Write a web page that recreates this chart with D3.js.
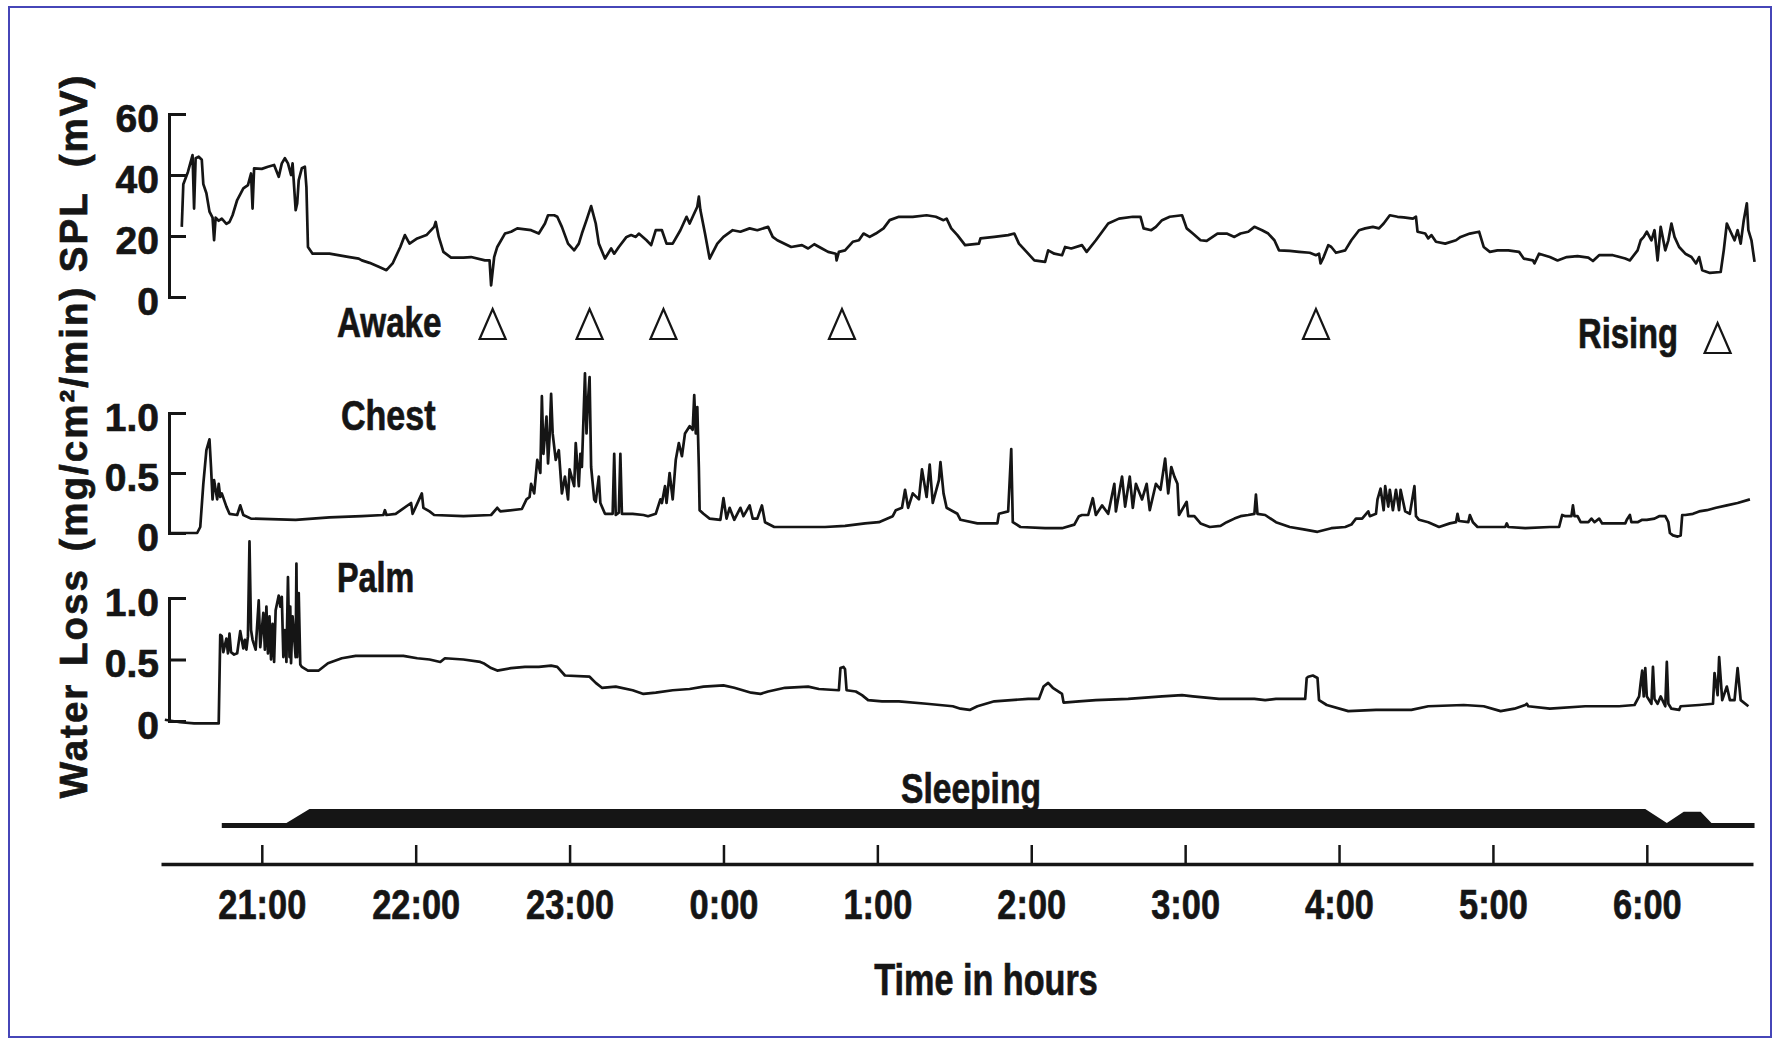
<!DOCTYPE html>
<html>
<head>
<meta charset="utf-8">
<script src="https://cdn.jsdelivr.net/npm/d3@7"></script>
<style>
body { margin: 0; background: #fff; }
svg text { font-family: "Liberation Sans", Arial, Helvetica, sans-serif; font-weight: bold; fill: #151515; stroke: #151515; stroke-width: 0.7px; }
</style>
</head>
<body>
<div id="display"></div>
<script>
// time is in decimal hours counted from the evening (24 = midnight, 30 = 6:00)
var splData = [
  [20.48,23],[20.49,37],[20.52,41],[20.55,46.5],[20.56,29],[20.57,45.5],[20.59,46],[20.61,45],[20.62,37],[20.64,34],
  [20.66,28],[20.68,26],[20.69,18.6],[20.70,26],[20.72,25],[20.74,25.7],[20.77,24],[20.79,24.6],[20.81,26.8],[20.84,31.8],
  [20.88,35.6],[20.91,36.7],[20.93,40.5],[20.94,29],[20.95,42.2],[21.00,42],[21.04,42.7],[21.08,43.3],[21.11,39.4],[21.13,43.8],
  [21.15,45.5],[21.17,43.8],[21.19,40],[21.20,43.8],[21.22,28.5],[21.23,30.7],[21.24,38.3],[21.26,42.2],[21.28,42.7],[21.29,36],
  [21.30,16.4],[21.33,14.2],[21.44,14.2],[21.57,13.1],[21.63,12.6],[21.65,12],[21.70,11.2],[21.76,9.9],[21.81,8.8],[21.85,11],
  [21.90,16.4],[21.93,20.3],[21.96,17.5],[22.01,19.2],[22.07,20.3],[22.12,23],[22.13,24.6],[22.15,19.7],[22.18,14.8],[22.23,12.9],
  [22.31,12.9],[22.36,13.1],[22.45,12],[22.48,12],[22.49,3.8],[22.51,13.1],[22.53,16.4],[22.58,20.8],[22.62,21.4],[22.66,22.5],
  [22.75,21.9],[22.80,20.8],[22.84,24.1],[22.86,26.8],[22.90,26.8],[22.92,26.3],[22.95,23],[22.99,17.5],[23.03,15.3],[23.06,17.5],
  [23.08,20.8],[23.11,25.2],[23.14,29.8],[23.17,24.1],[23.19,17.5],[23.23,12.6],[23.27,15.9],[23.29,14.2],[23.32,16.4],[23.37,19.7],
  [23.40,20.3],[23.43,19.7],[23.45,20.8],[23.50,18.6],[23.53,17],[23.56,21.9],[23.60,21.9],[23.63,17.5],[23.67,17.5],[23.72,21.9],
  [23.76,26.3],[23.78,24.1],[23.80,26.3],[23.83,29.6],[23.84,32.9],[23.85,28.5],[23.88,20.8],[23.91,12.6],[23.96,17.5],[24.00,19.7],
  [24.06,21.9],[24.11,21.4],[24.17,22.5],[24.22,21.9],[24.29,23],[24.32,19.7],[24.35,18.6],[24.44,16.4],[24.51,17],[24.55,15.9],
  [24.59,17.3],[24.64,15.9],[24.68,14.8],[24.73,14.2],[24.735,12],[24.75,14.8],[24.79,15.3],[24.84,18.1],[24.88,18.6],[24.91,20.8],
  [24.95,19.7],[24.99,20.8],[25.04,22.5],[25.08,25.2],[25.14,26.3],[25.23,26.3],[25.32,26.8],[25.38,26.3],[25.43,25.2],[25.45,25.7],
  [25.48,22.5],[25.52,20.3],[25.57,17],[25.66,17.5],[25.67,19.2],[25.76,19.7],[25.85,20.3],[25.89,20.8],[25.92,17.5],[25.98,14.2],
  [26.02,12],[26.09,11.5],[26.11,15.3],[26.15,14.2],[26.20,13.7],[26.22,16.4],[26.26,15.9],[26.33,17],[26.36,14.8],[26.42,18.6],
  [26.50,24.1],[26.57,25.7],[26.66,26.3],[26.71,26.3],[26.73,22.5],[26.78,21.9],[26.81,23],[26.85,25.2],[26.90,26.3],[26.98,26.8],
  [27.01,22.5],[27.05,20.8],[27.10,18.6],[27.14,18.4],[27.21,20.8],[27.27,20.8],[27.32,19.7],[27.36,20.8],[27.41,21.4],[27.45,23],
  [27.50,21.9],[27.54,20.8],[27.58,18.6],[27.61,15.3],[27.68,15.1],[27.74,14.8],[27.81,14.5],[27.85,13.7],[27.87,14.2],[27.88,11],
  [27.90,13.1],[27.93,17],[27.95,16.4],[27.98,14.5],[28.04,15.3],[28.08,18.6],[28.13,21.9],[28.17,22.5],[28.22,23],[28.26,22.5],
  [28.29,24.1],[28.33,26.8],[28.38,26.3],[28.42,26.1],[28.48,25.7],[28.50,26.3],[28.51,21.4],[28.56,20.8],[28.58,19.2],[28.60,20.3],
  [28.63,18.1],[28.69,17.5],[28.76,18.6],[28.79,19.7],[28.85,20.8],[28.91,21.4],[28.94,16.4],[28.98,14.8],[29.03,15.3],[29.10,15.3],
  [29.17,14.8],[29.20,12.6],[29.26,12],[29.27,11],[29.30,14.2],[29.37,13.1],[29.42,12],[29.48,13.1],[29.55,13.4],[29.62,12.9],
  [29.65,11.8],[29.69,13.7],[29.78,13.7],[29.86,12.6],[29.89,12],[29.94,15.3],[29.96,18.6],[29.98,19.7],[30.00,21.4],[30.03,18.6],
  [30.05,21.9],[30.07,12],[30.09,23],[30.12,15.3],[30.14,18.6],[30.16,24.1],[30.18,19.7],[30.21,16.4],[30.25,14.2],[30.29,13.1],
  [30.32,11],[30.34,13.1],[30.36,8.8],[30.41,7.9],[30.48,8.2],[30.50,15.3],[30.52,24.1],[30.54,21.9],[30.57,18.6],[30.59,21.9],
  [30.61,17.5],[30.63,25.2],[30.65,30.7],[30.66,21.9],[30.68,18.6],[30.70,11.5]
];

var chestData = [
  [20.40,0],[20.58,0],[20.60,0.05],[20.62,0.41],[20.64,0.69],[20.66,0.78],[20.67,0.55],[20.68,0.28],[20.69,0.44],[20.71,0.28],
  [20.72,0.41],[20.73,0.30],[20.74,0.33],[20.77,0.22],[20.79,0.16],[20.84,0.15],[20.86,0.23],[20.88,0.15],[20.93,0.12],[21.22,0.11],
  [21.44,0.13],[21.65,0.14],[21.79,0.15],[21.80,0.19],[21.81,0.15],[21.87,0.16],[21.97,0.25],[21.98,0.16],[22.04,0.33],[22.05,0.21],
  [22.09,0.18],[22.12,0.15],[22.31,0.14],[22.49,0.15],[22.53,0.21],[22.55,0.18],[22.69,0.20],[22.72,0.28],[22.74,0.30],[22.75,0.41],
  [22.77,0.33],[22.79,0.61],[22.81,0.50],[22.82,1.14],[22.83,0.66],[22.85,0.97],[22.86,0.58],[22.87,0.80],[22.88,1.16],[22.89,0.83],
  [22.91,0.61],[22.93,0.69],[22.95,0.33],[22.97,0.47],[22.99,0.28],[23.00,0.53],[23.03,0.39],[23.04,0.75],[23.06,0.39],[23.07,0.66],
  [23.08,0.55],[23.10,1.33],[23.11,0.83],[23.12,1.11],[23.13,1.30],[23.14,0.55],[23.16,0.28],[23.17,0.26],[23.19,0.47],[23.20,0.25],
  [23.23,0.16],[23.28,0.16],[23.29,0.66],[23.30,0.15],[23.32,0.17],[23.33,0.66],[23.34,0.16],[23.41,0.16],[23.48,0.15],[23.51,0.14],
  [23.56,0.16],[23.59,0.28],[23.60,0.25],[23.62,0.39],[23.63,0.25],[23.65,0.50],[23.67,0.28],[23.69,0.61],[23.71,0.75],[23.73,0.64],
  [23.75,0.83],[23.78,0.89],[23.80,0.86],[23.81,1.15],[23.82,0.83],[23.83,1.05],[23.84,0.55],[23.845,0.19],[23.87,0.16],[23.91,0.12],
  [23.98,0.11],[24.00,0.29],[24.02,0.12],[24.04,0.21],[24.07,0.11],[24.11,0.21],[24.13,0.14],[24.17,0.23],[24.19,0.12],[24.22,0.12],
  [24.25,0.23],[24.27,0.09],[24.33,0.05],[24.44,0.05],[24.66,0.05],[24.79,0.06],[24.92,0.08],[25.01,0.09],[25.10,0.14],[25.12,0.19],
  [25.16,0.21],[25.18,0.36],[25.20,0.21],[25.23,0.33],[25.27,0.28],[25.29,0.53],[25.32,0.30],[25.34,0.57],[25.36,0.25],[25.40,0.44],
  [25.41,0.59],[25.43,0.33],[25.45,0.21],[25.52,0.16],[25.54,0.11],[25.65,0.08],[25.78,0.08],[25.79,0.16],[25.85,0.18],[25.87,0.70],
  [25.88,0.09],[25.93,0.05],[26.09,0.04],[26.20,0.04],[26.28,0.07],[26.31,0.14],[26.33,0.15],[26.37,0.15],[26.40,0.29],[26.42,0.15],
  [26.46,0.23],[26.50,0.16],[26.54,0.41],[26.55,0.18],[26.59,0.47],[26.61,0.22],[26.64,0.47],[26.66,0.21],[26.68,0.41],[26.72,0.28],
  [26.75,0.41],[26.77,0.19],[26.81,0.41],[26.84,0.36],[26.87,0.62],[26.89,0.33],[26.91,0.55],[26.93,0.47],[26.95,0.41],[26.96,0.15],
  [27.01,0.26],[27.02,0.14],[27.06,0.14],[27.10,0.08],[27.16,0.05],[27.23,0.06],[27.27,0.09],[27.32,0.12],[27.36,0.14],[27.41,0.15],
  [27.45,0.16],[27.46,0.32],[27.47,0.16],[27.52,0.15],[27.59,0.09],[27.68,0.05],[27.77,0.03],[27.86,0.01],[27.95,0.04],[28.04,0.05],
  [28.08,0.07],[28.11,0.12],[28.15,0.12],[28.19,0.18],[28.20,0.14],[28.24,0.16],[28.25,0.28],[28.27,0.37],[28.29,0.19],[28.30,0.39],
  [28.32,0.22],[28.33,0.36],[28.35,0.19],[28.37,0.36],[28.39,0.19],[28.40,0.36],[28.43,0.18],[28.46,0.16],[28.49,0.39],[28.50,0.14],
  [28.52,0.11],[28.58,0.09],[28.65,0.05],[28.72,0.08],[28.76,0.09],[28.77,0.16],[28.78,0.10],[28.84,0.09],[28.85,0.15],[28.87,0.09],
  [28.90,0.05],[28.99,0.05],[29.08,0.05],[29.09,0.08],[29.10,0.05],[29.21,0.04],[29.37,0.05],[29.43,0.05],[29.45,0.15],[29.47,0.14],
  [29.51,0.14],[29.52,0.23],[29.53,0.14],[29.55,0.14],[29.57,0.09],[29.62,0.09],[29.64,0.12],[29.66,0.09],[29.69,0.12],[29.71,0.08],
  [29.78,0.08],[29.86,0.08],[29.87,0.11],[29.89,0.15],[29.90,0.09],[29.94,0.09],[29.97,0.11],[30.00,0.11],[30.05,0.12],[30.08,0.14],
  [30.12,0.14],[30.14,0.09],[30.15,0],[30.17,-0.02],[30.20,-0.03],[30.22,-0.02],[30.23,0.15],[30.25,0.15],[30.30,0.16],[30.34,0.18],
  [30.39,0.19],[30.45,0.21],[30.52,0.23],[30.59,0.25],[30.67,0.28]
];

var palmData = [
  [20.37,0.01],[20.47,-0.01],[20.56,-0.02],[20.72,-0.02],[20.73,0.70],[20.74,0.69],[20.75,0.56],[20.77,0.67],[20.78,0.55],[20.79,0.71],
  [20.80,0.56],[20.82,0.54],[20.84,0.55],[20.86,0.73],[20.88,0.59],[20.89,0.66],[20.90,0.58],[20.91,0.69],[20.92,1.46],[20.93,0.74],
  [20.94,0.66],[20.96,0.58],[20.98,0.98],[20.99,0.60],[21.01,0.88],[21.02,0.58],[21.03,0.93],[21.04,0.55],[21.05,0.85],[21.06,0.50],
  [21.07,0.79],[21.08,0.48],[21.09,0.90],[21.11,1.02],[21.12,0.93],[21.13,1.01],[21.14,0.52],[21.15,0.74],[21.16,0.48],[21.17,1.17],
  [21.18,0.52],[21.185,0.93],[21.19,0.47],[21.20,0.85],[21.22,0.52],[21.225,1.28],[21.23,0.52],[21.24,1.04],[21.25,0.46],[21.26,0.44],
  [21.30,0.41],[21.37,0.41],[21.43,0.47],[21.52,0.51],[21.61,0.53],[21.70,0.53],[21.83,0.53],[21.92,0.53],[22.01,0.51],[22.09,0.50],
  [22.16,0.48],[22.19,0.51],[22.31,0.50],[22.42,0.48],[22.44,0.47],[22.49,0.43],[22.53,0.41],[22.62,0.43],[22.71,0.44],[22.80,0.44],
  [22.88,0.45],[22.92,0.44],[22.97,0.37],[23.13,0.36],[23.17,0.31],[23.21,0.27],[23.30,0.28],[23.41,0.25],[23.48,0.22],[23.56,0.23],
  [23.67,0.25],[23.78,0.26],[23.87,0.28],[24.00,0.29],[24.07,0.27],[24.18,0.23],[24.24,0.22],[24.29,0.24],[24.40,0.27],[24.55,0.28],
  [24.62,0.26],[24.75,0.25],[24.76,0.43],[24.78,0.44],[24.79,0.42],[24.80,0.25],[24.86,0.24],[24.90,0.21],[24.94,0.17],[25.03,0.16],
  [25.14,0.16],[25.32,0.14],[25.49,0.12],[25.54,0.10],[25.60,0.09],[25.65,0.12],[25.76,0.16],[25.87,0.17],[25.98,0.18],[26.05,0.18],
  [26.08,0.28],[26.11,0.31],[26.14,0.27],[26.20,0.22],[26.21,0.15],[26.31,0.16],[26.42,0.17],[26.63,0.18],[26.85,0.20],[26.98,0.21],
  [27.05,0.20],[27.22,0.18],[27.45,0.18],[27.52,0.17],[27.59,0.18],[27.78,0.18],[27.79,0.35],[27.80,0.36],[27.83,0.37],[27.86,0.35],
  [27.87,0.17],[27.92,0.13],[28.06,0.08],[28.24,0.09],[28.47,0.09],[28.58,0.12],[28.81,0.13],[28.94,0.12],[29.05,0.08],[29.14,0.10],
  [29.21,0.13],[29.22,0.14],[29.23,0.12],[29.37,0.10],[29.60,0.12],[29.82,0.12],[29.92,0.13],[29.95,0.20],[29.96,0.31],[29.97,0.41],
  [29.98,0.20],[29.99,0.43],[30.00,0.20],[30.03,0.14],[30.04,0.44],[30.05,0.18],[30.07,0.14],[30.09,0.20],[30.12,0.12],[30.13,0.48],
  [30.14,0.14],[30.16,0.10],[30.21,0.09],[30.22,0.12],[30.34,0.13],[30.43,0.14],[30.44,0.39],[30.46,0.21],[30.47,0.52],[30.49,0.17],
  [30.52,0.28],[30.54,0.17],[30.57,0.17],[30.59,0.43],[30.61,0.17],[30.66,0.12]
];

// 0 = awake, 1 = asleep
var sleepData = [[20.74,0],[21.16,0],[21.31,1],[29.99,1],[30.13,0],[30.24,0.8],[30.35,0.8],[30.42,0],[30.70,0]];

var awakeTimes = [22.50, 23.13, 23.61, 24.77, 27.85];
var risingTimes = [30.46];
var hourTicks = [21, 22, 23, 24, 25, 26, 27, 28, 29, 30];
var splTicks = [0, 20, 40, 60];
var lossTicks = [0, 0.5, 1.0];

var width = 1780;
var height = 1045;
var ink = '#151515';

var svg = d3.select('#display').append('svg')
  .attr('width', width)
  .attr('height', height);

svg.append('rect')
  .attr('x', 9).attr('y', 7)
  .attr('width', 1762).attr('height', 1030)
  .attr('fill', '#fff')
  .attr('stroke', '#4646b8')
  .attr('stroke-width', 2);

var x = d3.scaleLinear().domain([20.345, 30.69]).range([161, 1753]);
var splY = d3.scaleLinear().domain([0, 60]).range([297, 114]);
var chestY = d3.scaleLinear().domain([0, 1]).range([533, 413]);
var palmY = d3.scaleLinear().domain([0, 1]).range([721, 598]);
var sleepY = d3.scaleLinear().domain([0, 1]).range([823, 809]);
var sleepBase = 828;

// left bracket axes
var yAxis = function(scale, ticks, fmt) {
  var g = svg.append('g')
    .attr('transform', 'translate(169,0)')
    .call(d3.axisLeft(scale)
      .tickValues(ticks)
      .tickFormat(fmt)
      .tickSizeInner(-17)
      .tickSizeOuter(-17)
      .tickPadding(10));
  g.select('.domain').attr('stroke', ink).attr('stroke-width', 3);
  g.selectAll('.tick line').attr('stroke', ink).attr('stroke-width', 3);
  g.selectAll('.tick text')
    .attr('font-size', 39)
    .attr('dy', '0.44em')
    .attr('fill', ink);
};
yAxis(splY, splTicks, function(d) { return d; });
var lossFmt = function(d) { return d === 0 ? '0' : d.toFixed(1); };
yAxis(chestY, lossTicks, lossFmt);
yAxis(palmY, lossTicks, lossFmt);

var trace = function(data, y) {
  svg.append('path')
    .datum(data)
    .attr('fill', 'none')
    .attr('stroke', ink)
    .attr('stroke-width', 2.7)
    .attr('stroke-linejoin', 'round')
    .attr('d', d3.line()
      .x(function(d) { return x(d[0]); })
      .y(function(d) { return y(d[1]); }));
};
trace(splData, splY);
trace(chestData, chestY);
trace(palmData, palmY);

// sleeping band
svg.append('path')
  .datum(sleepData)
  .attr('fill', ink)
  .attr('d', d3.area()
    .x(function(d) { return x(d[0]); })
    .y0(sleepBase)
    .y1(function(d) { return sleepY(d[1]); }));

// time axis
var xg = svg.append('g')
  .attr('transform', 'translate(0,864)')
  .call(d3.axisBottom(x)
    .tickValues(hourTicks)
    .tickFormat(function(h) { return (h % 24) + ':00'; })
    .tickSizeInner(-19)
    .tickSizeOuter(0)
    .tickPadding(24));
xg.select('.domain').attr('stroke', ink).attr('stroke-width', 3.5);
xg.selectAll('.tick line').attr('stroke', ink).attr('stroke-width', 2.5);
xg.selectAll('.tick text')
  .attr('font-size', 43)
  .attr('fill', ink)
  .attr('transform', 'scale(0.8,1)');

// condensed bold labels
var label = function(txt, px, py, size, sx, anchor) {
  svg.append('text')
    .attr('transform', 'translate(' + px + ',' + py + ') scale(' + sx + ',1)')
    .attr('font-size', size)
    .attr('text-anchor', anchor || 'start')
    .text(txt);
};
label('Awake', 337, 337, 42, 0.79);
label('Rising', 1578, 348, 42, 0.78);
label('Chest', 341, 430, 42, 0.81);
label('Palm', 337, 592, 42, 0.77);
label('Sleeping', 901, 803, 42, 0.8);
label('Time in hours', 986, 995, 45, 0.76, 'middle');

// markers
var triangle = function(times, top, bottom) {
  svg.selectAll(null)
    .data(times)
    .enter().append('path')
    .attr('fill', '#fff')
    .attr('stroke', ink)
    .attr('stroke-width', 2.2)
    .attr('d', function(t) {
      var cx = x(t);
      return 'M' + (cx - 13) + ',' + bottom + 'L' + (cx + 13) + ',' + bottom + 'L' + cx + ',' + top + 'Z';
    });
};
triangle(awakeTimes, 309, 339);
triangle(risingTimes, 323, 353);

// vertical axis titles
svg.append('text')
  .attr('transform', 'translate(87,173) rotate(-90)')
  .attr('text-anchor', 'middle')
  .attr('font-size', 38.5)
  .attr('letter-spacing', 2)
  .attr('word-spacing', 12)
  .text('SPL (mV)');
svg.append('text')
  .attr('transform', 'translate(87,542) rotate(-90)')
  .attr('text-anchor', 'middle')
  .attr('font-size', 38.5)
  .attr('letter-spacing', 2)
  .attr('word-spacing', 4)
  .text('Water Loss (mg/cm²/min)');
</script>
</body>
</html>
